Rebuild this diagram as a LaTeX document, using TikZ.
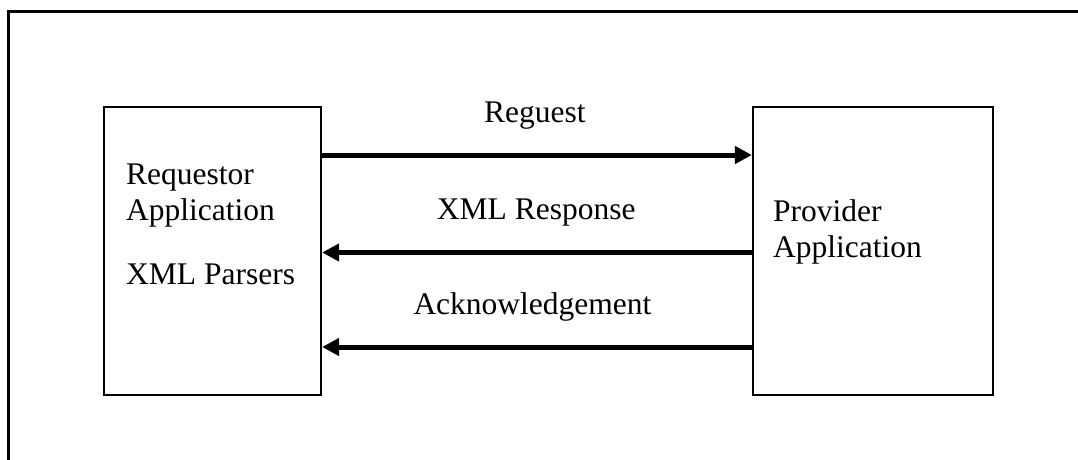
\documentclass[tikz,border=0pt]{standalone}
\usepackage{fontspec}
\setmainfont{Liberation Serif}
\usetikzlibrary{arrows.meta}
\begin{document}
\begin{tikzpicture}[x=1pt,y=1pt,
  frame/.style={line width=2.2pt,line cap=rect},
  appbox/.style={draw,line width=2.2pt,minimum height=288pt,inner sep=0pt},
  label/.style={anchor=base west,inner sep=0pt,font=\fontsize{31.5}{36}\selectfont},
  msg/.style={line width=5pt,-{Triangle[length=17pt,width=17pt]}}]
\useasboundingbox (0,0) rectangle (1078,459);
% open outer frame: top and left edges only
\draw[frame] (1080,447.5) -- (8.5,447.5) -- (8.5,-2);
% the two applications
\node[appbox,minimum width=217pt] (req) at (212.5,208) {};
\node[appbox,minimum width=240pt] (prov) at (873,208) {};
% box texts
\node[label] (t1) at (126,274.7) {Requestor};
\node[label] (t2) at (126,239) {Application};
\node[label] (t3) at (126,175) {XML Parsers};
\node[label] (t4) at (773,238) {Provider};
\node[label] (t5) at (773,201.5) {Application};
% messages
\draw[msg] ([yshift=96pt]req.east) -- ([yshift=96pt]prov.west);
\draw[msg] ([yshift=-1.5pt]prov.west) -- ([yshift=-1.5pt]req.east);
\draw[msg] ([yshift=-96pt]prov.west) -- ([yshift=-96pt]req.east);
\node[label] (m1) at (484,336.7) {Reguest};
\node[label] (m2) at (436.7,239.7) {XML Response};
\node[label] (m3) at (413.3,144.7) {Acknowledgement};
\end{tikzpicture}
\end{document}
